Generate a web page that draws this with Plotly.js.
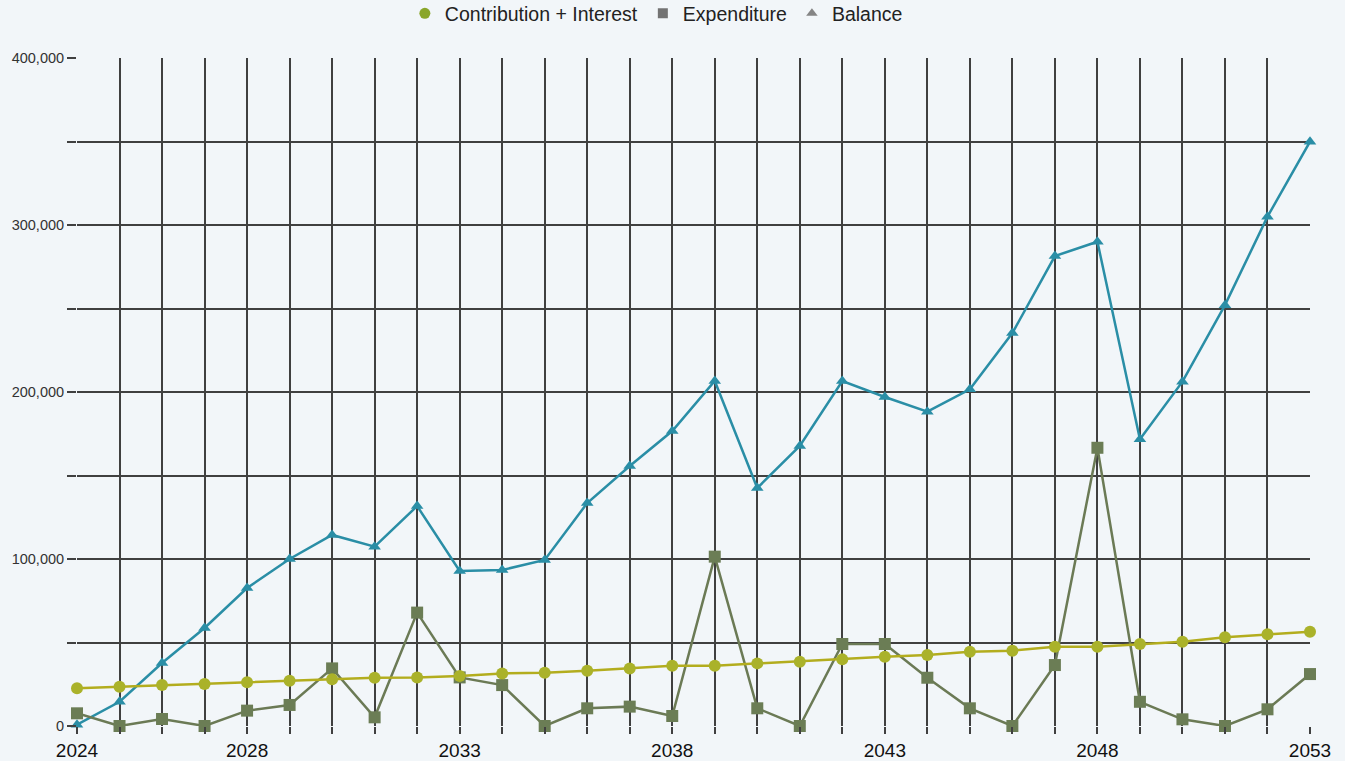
<!DOCTYPE html>
<html>
<head>
<meta charset="utf-8">
<script src="https://cdn.plot.ly/plotly-3.0.1.min.js"></script>
<style>
html,body{margin:0;padding:0;background:#f2f6f9;}
#chart{width:1345px;height:761px;}
</style>
</head>
<body>
<div id="chart"></div>
<script>
const years = [2024,2025,2026,2027,2028,2029,2030,2031,2032,2033,2034,2035,2036,2037,2038,2039,2040,2041,2042,2043,2044,2045,2046,2047,2048,2049,2050,2051,2052,2053];
const contribution = [22600,23500,24500,25100,26200,27100,28000,28900,29100,29900,31500,31900,33100,34500,36100,36100,37500,38500,39900,41500,42500,44500,45100,47500,47500,49100,50500,53100,54900,56500];
const expenditure = [7600,0,4200,0,9200,12600,34500,5200,67900,29100,24500,0,10600,11600,6000,101400,10600,0,49100,49100,28900,10600,0,36500,166600,14500,4000,0,10000,31100];
const balance = [800,14500,37700,58700,82600,100000,114400,107400,131700,92800,93400,99400,133500,155700,176600,206600,142500,167700,206600,197000,188200,201600,235300,281400,290000,171700,206200,252000,305000,349900];
const xTickVals = [2024,2028,2033,2038,2043,2048,2053];
const yGridVals = [0,50000,100000,150000,200000,250000,300000,350000,400000];
const yTickText = ['0','','100,000','','200,000','','300,000','','400,000'];
const seriesNames = ['Contribution + Interest','Expenditure','Balance'];

const traces = [
  {x: years, y: balance, name: seriesNames[2], mode: 'lines+markers', showlegend: false,
   line: {color: '#2a8ea6', width: 2.5}, marker: {symbol: 'triangle-up', size: 11, color: '#2a8ea6'},
   cliponaxis: false},
  {x: years, y: expenditure, name: seriesNames[1], mode: 'lines+markers', showlegend: false,
   line: {color: '#6b7a55', width: 2.5}, marker: {symbol: 'square', size: 12, color: '#6b7d55'},
   cliponaxis: false},
  {x: years, y: contribution, name: seriesNames[0], mode: 'lines+markers', showlegend: false,
   line: {color: '#b3ad1e', width: 2.5}, marker: {symbol: 'circle', size: 12, color: '#aab22a'},
   cliponaxis: false},
  // legend entries (marker-only icons, as in the reference legend)
  {x: [null], y: [null], name: seriesNames[0], mode: 'markers', legendrank: 1,
   marker: {symbol: 'circle', size: 11, color: '#8aa62a'}},
  {x: [null], y: [null], name: seriesNames[1], mode: 'markers', legendrank: 2,
   marker: {symbol: 'square', size: 10, color: '#737373'}},
  {x: [null], y: [null], name: seriesNames[2], mode: 'markers', legendrank: 3,
   marker: {symbol: 'triangle-up', size: 10, color: '#858585'}}
];

const layout = {
  width: 1345, height: 761,
  paper_bgcolor: '#f2f6f9',
  plot_bgcolor: 'rgba(0,0,0,0)',
  font: {family: 'Liberation Sans, Arial, sans-serif', color: '#222'},
  margin: {l: 77, r: 35, t: 58, b: 35, autoexpand: false},
  showlegend: true,
  legend: {orientation: 'h', x: 0.488, xref: 'container', xanchor: 'center',
           y: 0.982, yref: 'container', yanchor: 'middle',
           font: {size: 19.5, color: '#222'}, bgcolor: 'rgba(0,0,0,0)', itemwidth: 30},
  xaxis: {
    range: [2024, 2053],
    showgrid: true, gridcolor: '#404040', gridwidth: 2,
    tickmode: 'array', tickvals: years,
    ticktext: years.map(y => xTickVals.includes(y) ? String(y) : ''),
    ticks: 'outside', ticklen: 7, tickcolor: '#404040', tickwidth: 2,
    tickfont: {size: 19, color: '#111'},
    zeroline: false, showline: false, fixedrange: true
  },
  yaxis: {
    range: [0, 400000],
    tickmode: 'array',
    tickvals: yGridVals,
    ticktext: yTickText,
    showgrid: true, gridcolor: '#404040', gridwidth: 2,
    ticks: 'outside', ticklen: 9, tickcolor: '#404040', tickwidth: 2,
    tickfont: {size: 14.5, color: '#333'},
    zeroline: false, showline: false, fixedrange: true
  }
};

Plotly.newPlot('chart', traces, layout, {displayModeBar: false, staticPlot: true});
</script>
</body>
</html>
